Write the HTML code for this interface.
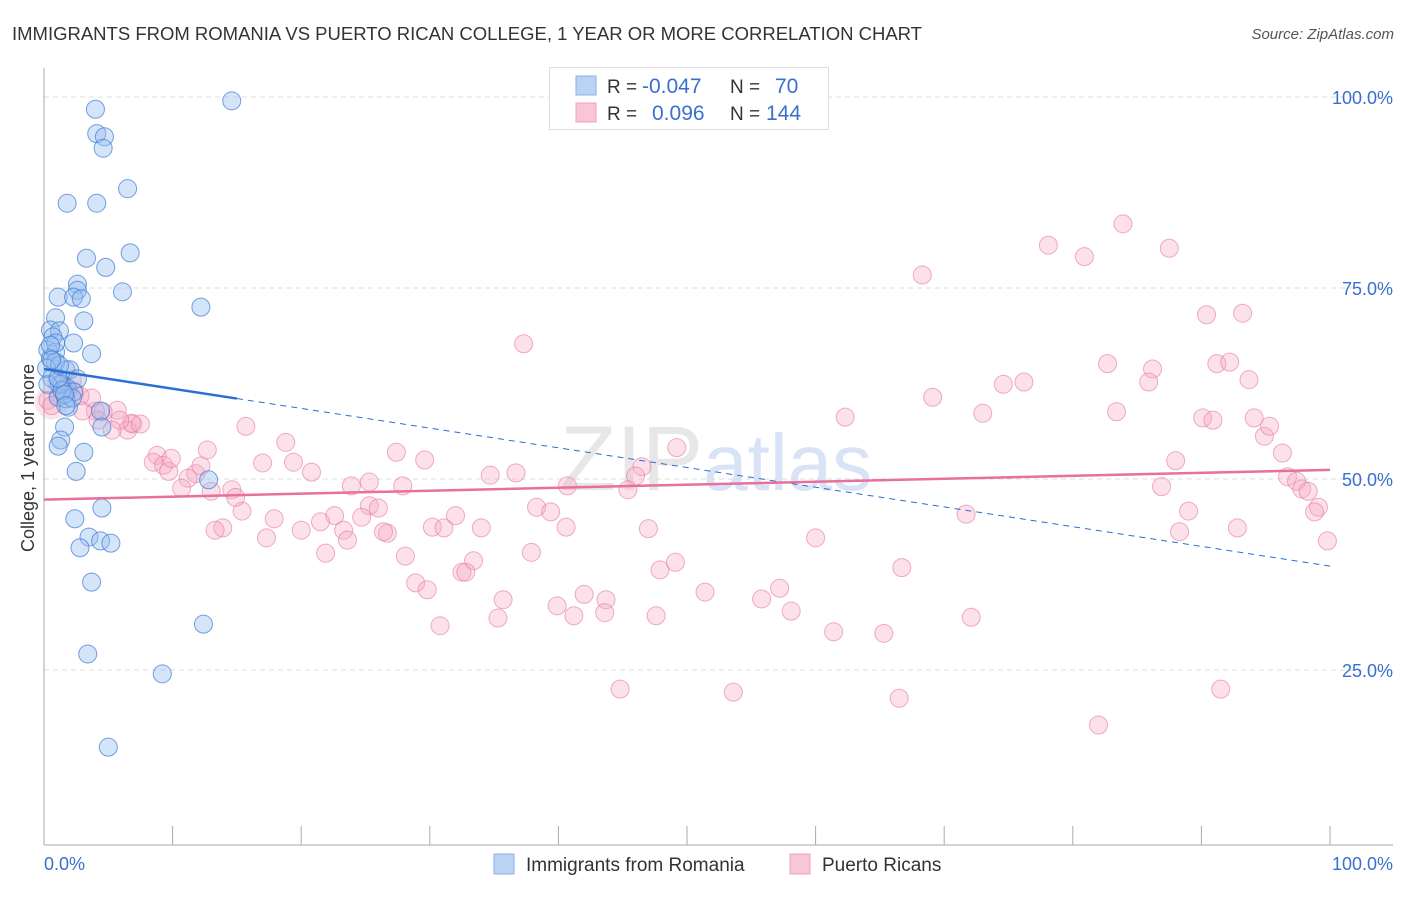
<!DOCTYPE html>
<html><head><meta charset="utf-8"><style>
body{margin:0;background:#fff;font-family:"Liberation Sans",sans-serif;}
svg text{font-family:"Liberation Sans",sans-serif;}
</style></head><body>
<svg id="c" width="1406" height="892">
<text x="12" y="40" font-size="18" fill="#333" textLength="910" lengthAdjust="spacingAndGlyphs">IMMIGRANTS FROM ROMANIA VS PUERTO RICAN COLLEGE, 1 YEAR OR MORE CORRELATION CHART</text>
<text x="1394" y="39" font-size="15" fill="#555" font-style="italic" text-anchor="end">Source: ZipAtlas.com</text>
<text x="560" y="490" font-size="92" fill="#ccc" opacity="0.45" font-family="Liberation Serif">ZIP<tspan fill="#aac4ec" font-family="Liberation Sans" font-size="80">atlas</tspan></text>
<text transform="translate(34,458) rotate(-90)" font-size="18" fill="#333" text-anchor="middle">College, 1 year or more</text>
<g id="grid"></g><g id="axes"></g><g id="pts"></g><g id="lines"></g>
<g>
<rect x="549.5" y="67.5" width="279" height="62" fill="#fff" stroke="#ddd"/>
<rect x="576" y="76" width="20" height="19" fill="#b9d3f5" stroke="#8ab0e6"/>
<rect x="576" y="103" width="20" height="19" fill="#f9c6d5" stroke="#f0a3bb"/>
<text x="607" y="93" font-size="19" fill="#333">R = </text><text x="642" y="93" font-size="21" fill="#3a6fd0">-0.047</text>
<text x="730" y="93" font-size="19" fill="#333">N = </text><text x="775" y="93" font-size="21" fill="#3a6fd0">70</text>
<text x="607" y="120" font-size="19" fill="#333">R = </text><text x="652" y="120" font-size="21" fill="#3a6fd0">0.096</text>
<text x="730" y="120" font-size="19" fill="#333">N = </text><text x="766" y="120" font-size="21" fill="#3a6fd0">144</text>
</g>
<g>
<rect x="494" y="854" width="20" height="20" fill="#b9d3f5" stroke="#8ab0e6"/>
<text x="526" y="871" font-size="19" fill="#333">Immigrants from Romania</text>
<rect x="790" y="854" width="20" height="20" fill="#f9c6d5" stroke="#f0a3bb"/>
<text x="822" y="871" font-size="19" fill="#333">Puerto Ricans</text>
</g>
<text x="44" y="870" font-size="18" fill="#3a6fd0">0.0%</text>
<text x="1393" y="870" font-size="18" fill="#3a6fd0" text-anchor="end">100.0%</text>
</svg>
<script>
const yTicks=[25,50,75,100];
const yTickLabels=["25.0%","50.0%","75.0%","100.0%"];
const xTicks=[0,10,20,30,40,50,60,70,80,90,100];
const blueX=[4.0,14.6,4.1,4.7,4.6,6.5,1.8,4.1,3.3,4.8,6.7,2.6,2.6,1.1,2.3,2.9,6.1,12.2,3.1,0.9,0.5,1.2,0.7,2.3,3.7,0.3,0.9,0.5,0.9,1.7,2.0,0.6,2.6,1.4,1.8,2.3,1.1,1.9,4.4,4.5,1.6,1.3,1.1,3.1,2.5,4.5,2.4,3.5,4.4,5.2,2.8,3.7,12.4,3.4,9.2,5.0,12.8,1.7,1.2,2.2,0.3,1.4,1.6,0.9,0.5,0.2,1.1,1.7,1.2,0.6];
const blueY=[98.4,99.5,95.2,94.8,93.3,88.0,86.1,86.1,78.9,77.7,79.6,75.5,74.7,73.8,73.8,73.6,74.5,72.5,70.7,71.1,69.5,69.4,68.6,67.8,66.4,66.9,66.6,65.8,65.3,64.3,64.3,63.2,63.1,62.4,61.9,61.4,60.7,59.4,58.9,56.8,56.8,55.1,54.3,53.5,51.0,46.2,44.8,42.4,41.9,41.6,41.0,36.5,31.0,27.1,24.5,14.9,49.9,60.5,62.4,60.6,62.4,61.6,61.1,67.8,67.5,64.5,63.2,59.6,64.9,65.6];
const pinkX=[83.9,78.1,87.5,80.9,68.3,90.4,93.2,37.3,82.7,86.2,91.2,92.2,74.6,76.2,85.9,93.7,69.1,73.0,62.3,83.4,90.1,90.9,94.1,94.9,95.3,96.3,88.0,86.9,89.0,88.3,92.8,96.7,97.4,97.8,98.3,99.1,98.8,99.8,71.7,60.0,49.2,46.5,46.0,36.7,34.7,29.6,27.4,27.9,25.3,23.9,25.3,26.0,22.6,23.3,23.6,20.8,19.4,18.8,17.0,15.7,15.4,13.9,17.3,17.9,20.0,21.5,21.9,24.7,26.7,26.4,28.1,28.9,29.8,30.2,30.8,31.1,32.0,32.5,33.4,32.8,34.0,35.7,35.3,37.9,38.3,39.4,40.6,40.7,39.9,41.2,42.0,43.7,43.6,44.8,47.0,47.6,47.9,49.1,51.4,53.6,55.8,57.2,58.1,61.4,65.3,66.5,66.7,72.1,82.0,91.5,45.4,11.8,12.2,11.2,10.7,8.8,8.5,9.3,9.7,6.9,6.5,6.8,5.7,5.9,4.6,4.0,3.0,2.4,1.9,1.2,0.3,0.6,3.7,1.4,12.7,13.0,14.6,14.9,9.9,7.5,5.3,4.2,13.3,2.2,1.0,2.8];
const pinkY=[83.4,80.6,80.2,79.1,76.7,71.5,71.7,67.7,65.1,64.4,65.1,65.3,62.4,62.7,62.7,63.0,60.7,58.6,58.1,58.8,58.0,57.7,58.0,55.6,56.9,53.4,52.4,49.0,45.8,43.1,43.6,50.3,49.7,48.7,48.4,46.3,45.7,41.9,45.4,42.3,54.1,51.6,50.4,50.8,50.5,52.5,53.5,49.1,49.6,49.1,46.5,46.2,45.2,43.3,42.0,50.9,52.2,54.8,52.1,56.9,45.8,43.6,42.3,44.8,43.3,44.4,40.3,45.0,42.9,43.1,39.9,36.4,35.5,43.7,30.8,43.6,45.2,37.8,39.3,37.8,43.6,34.2,31.8,40.4,46.3,45.7,43.7,49.1,33.4,32.1,34.9,34.2,32.5,22.5,43.5,32.1,38.1,39.1,35.2,22.1,34.3,35.7,32.7,30.0,29.8,21.3,38.4,31.9,17.8,22.5,48.6,50.7,51.7,50.1,48.8,53.1,52.2,51.8,51.0,57.2,56.4,57.3,59.0,57.7,58.8,58.9,58.9,61.4,61.6,61.0,60.3,59.6,60.6,61.6,53.8,48.4,48.6,47.6,52.7,57.2,56.4,57.7,43.3,63.0,62.6,60.9];
const blueTrend=[64.4,38.6];
const blueSolidEnd=15;
const pinkTrend=[47.3,51.2];

const NS="http://www.w3.org/2000/svg";
const X0=44,X1=1330,Y0=861,Y100=97;
const sx=v=>X0+(X1-X0)*v/100;
const sy=v=>Y0-(Y0-Y100)*v/100;
function mk(tag,attrs,parent){const e=document.createElementNS(NS,tag);for(const k in attrs)e.setAttribute(k,attrs[k]);document.getElementById(parent).appendChild(e);return e;}
yTicks.forEach((t,i)=>{
  const g=mk('line',{x1:X0,x2:1393,y1:sy(t),y2:sy(t),stroke:'#ddd','stroke-dasharray':'5,4'},'grid');
  
  
  const l=mk('text',{x:1393,y:sy(t)+7,'font-size':18,fill:'#3a6fd0','text-anchor':'end'},'grid');
  l.textContent=yTickLabels[i];
  
  
});
const ya=mk('line',{x1:X0,x2:X0,y1:68,y2:845,stroke:'#aaa'},'axes');


const xa=mk('line',{x1:X0,x2:1393,y1:845,y2:845,stroke:'#aaa'},'axes');


xTicks.forEach(t=>{
  const k=mk('line',{x1:sx(t),x2:sx(t),y1:826,y2:845,stroke:'#aaa'},'axes');
  
  
});
const big=mk('circle',{cx:sx(0.6),cy:sy(60),r:17,fill:'rgba(240,150,180,0.25)'},'pts');


pinkX.forEach((x,i)=>{
  const c=mk('circle',{cx:sx(x),cy:sy(pinkY[i]),r:9,fill:'rgba(245,170,195,0.35)',stroke:'rgba(230,120,160,0.6)','stroke-width':1},'pts');
  
  
});
blueX.forEach((x,i)=>{
  const c=mk('circle',{cx:sx(x),cy:sy(blueY[i]),r:9,fill:'rgba(150,190,240,0.4)',stroke:'rgba(60,120,210,0.7)','stroke-width':1},'pts');
  
  
});
const by=x=>blueTrend[0]+(blueTrend[1]-blueTrend[0])*x/100;
const b1=mk('line',{x1:sx(0),y1:sy(by(0)),x2:sx(blueSolidEnd),y2:sy(by(blueSolidEnd)),stroke:'#2a6fd6','stroke-width':2.5},'lines');


const b2=mk('line',{x1:sx(blueSolidEnd),y1:sy(by(blueSolidEnd)),x2:sx(100),y2:sy(by(100)),stroke:'#2a6fd6','stroke-width':1,'stroke-dasharray':'6,5'},'lines');


const p1=mk('line',{x1:sx(0),y1:sy(pinkTrend[0]),x2:sx(100),y2:sy(pinkTrend[1]),stroke:'#e8709a','stroke-width':2.5},'lines');


</script>
</body></html>
